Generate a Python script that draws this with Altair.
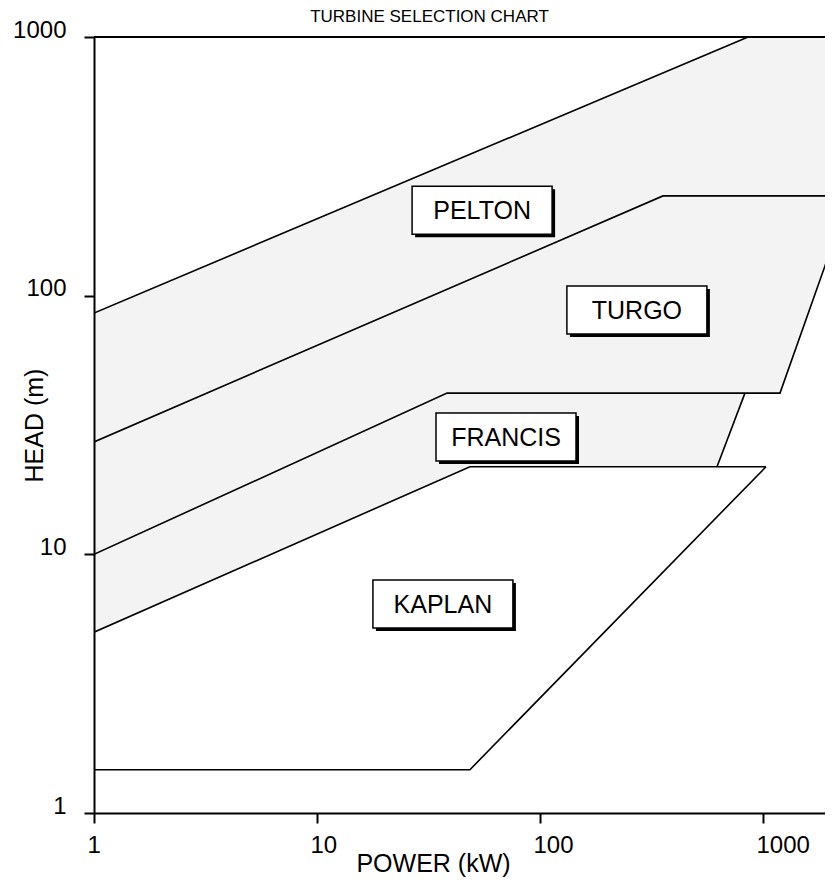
import altair as alt
import pandas as pd

# ---- boundary lines (POWER kW, HEAD m) ----
pelton_upper_p = [1, 857]
pelton_upper_h = [85.7, 1000]
turgo_upper_p = [1, 356, 2060]
turgo_upper_h = [27.2, 243, 243]
francis_upper_p = [1, 38.3, 1192, 2449]
francis_upper_h = [10, 42, 42, 243]
francis_right_p = [622, 830]
francis_right_h = [21.8, 42]
kaplan_upper_p = [1, 48.5, 1031]
kaplan_upper_h = [5, 21.8, 21.8]
kaplan_lower_p = [1, 48.5, 1031]
kaplan_lower_h = [1.47, 1.47, 21.8]
frame_p = [1, 1897]
frame_h = [1000, 1000]

# stippled zone (Pelton + Turgo + Francis)
shade_p = [1, 857, 2500, 2500, 2449, 1192, 830, 622, 48.5, 1]
shade_h = [85.7, 1000, 1000, 243, 243, 42, 42, 21.8, 21.8, 5]

# labels
label_names = ["PELTON", "TURGO", "FRANCIS", "KAPLAN"]
label_p = [55.0, 272, 70.4, 36.7]
label_h = [214, 88, 28.4, 6.43]

x_ticks = [1, 10, 100, 1000]
y_ticks = [1, 10, 100, 1000]

segments = {
    "pelton_upper": (pelton_upper_p, pelton_upper_h),
    "turgo_upper": (turgo_upper_p, turgo_upper_h),
    "francis_upper": (francis_upper_p, francis_upper_h),
    "francis_right": (francis_right_p, francis_right_h),
    "kaplan_upper": (kaplan_upper_p, kaplan_upper_h),
    "kaplan_lower": (kaplan_lower_p, kaplan_lower_h),
}
rows = []
for name, (ps, hs) in segments.items():
    for i, (p, h) in enumerate(zip(ps, hs)):
        rows.append({"seg": name, "P": p, "H": h, "ord": i})
lines_df = pd.DataFrame(rows)
frame_df = pd.DataFrame({"P": frame_p, "H": frame_h, "ord": range(len(frame_p))})
shade_df = pd.DataFrame({"P": shade_p, "H": shade_h, "ord": range(len(shade_p))})
labels_df = pd.DataFrame({"name": label_names, "P": label_p, "H": label_h})

FONT = "Liberation Sans"

xscale = alt.Scale(type="log", domain=[1, 1897], nice=False, padding=0)
yscale = alt.Scale(type="log", domain=[1, 1000], nice=False, padding=0)
xaxis = alt.Axis(
    values=x_ticks, format="d", title="POWER (kW)", grid=False, zindex=2,
    labelAlign="left", labelOffset=-7, labelPadding=10, labelBaseline="top",
    titleX=339, titleY=50, titleAlign="center", titleBaseline="middle",
)
yaxis = alt.Axis(
    values=y_ticks, format="d", title="HEAD (m)", grid=False, zindex=2,
    labelPadding=18, labelBaseline="alphabetic",
    titleX=-60, titleY=388, titleAngle=-90, titleAlign="center", titleBaseline="middle",
)
X = alt.X("P:Q", scale=xscale, axis=xaxis)
Y = alt.Y("H:Q", scale=yscale, axis=yaxis)

shade = alt.Chart(shade_df).mark_line(
    fill="#f3f3f3", strokeOpacity=0, clip=True
).encode(x=X, y=Y, order="ord:Q")

lines = alt.Chart(lines_df).mark_line(
    color="black", strokeWidth=1.6, clip=True
).encode(x=X, y=Y, detail="seg:N", order="ord:Q")

frame = alt.Chart(frame_df).mark_line(
    color="black", strokeWidth=2, clip=False
).encode(x=X, y=Y, order="ord:Q")

shadow = alt.Chart(labels_df).mark_rect(
    width=140, height=48, color="black", xOffset=3, yOffset=3
).encode(x=X, y=Y)
box = alt.Chart(labels_df).mark_rect(
    width=140, height=48, fill="white", stroke="black", strokeWidth=1.5
).encode(x=X, y=Y)
text = alt.Chart(labels_df).mark_text(
    font=FONT, fontSize=25, color="black", align="center", baseline="middle", dy=1
).encode(x=X, y=Y, text="name:N")

chart = alt.layer(shade, lines, frame, shadow, box, text).properties(
    width=731,
    height=776,
    background="white",
    autosize=alt.AutoSizeParams(type="none"),
    padding={"left": 86, "top": 29, "right": 0, "bottom": 64},
    title=alt.TitleParams(
        "TURBINE SELECTION CHART", font=FONT, fontSize=17, fontWeight="normal",
        color="black", dx=-30, offset=-8, frame="group",
    ),
).configure_view(strokeWidth=0).configure_axis(
    domainColor="black", domainWidth=2, tickColor="black", tickWidth=2, tickSize=10,
    labelFont=FONT, labelFontSize=24, labelColor="black",
    titleFont=FONT, titleFontSize=25, titleFontWeight="normal", titleColor="black",
)

chart.save("out.html", embed_options={"renderer": "svg", "actions": False})
